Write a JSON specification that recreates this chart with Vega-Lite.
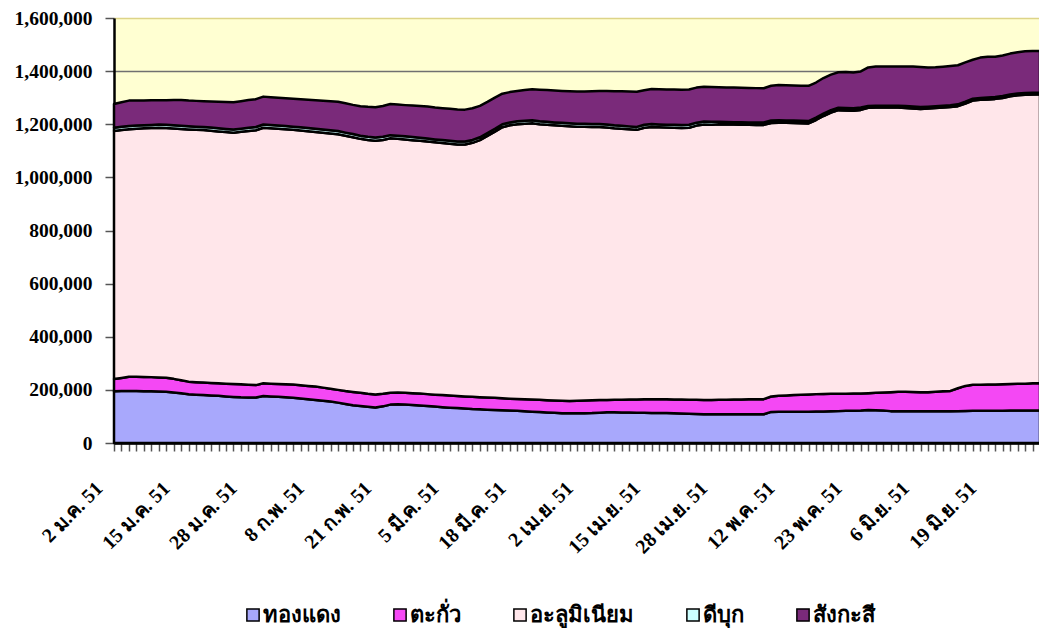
{
  "$schema": "https://vega.github.io/schema/vega-lite/v6.json",
  "width": 926,
  "height": 425,
  "autosize": {"type": "none"},
  "padding": {"left": 114, "top": 18, "right": 0, "bottom": 185},
  "background": "white",
  "config": {"view": {"fill": "#FFFFD2", "stroke": null}},
  "data": {"values": [
    {"d":"2 ม.ค. 51","s1":195000,"s2":46000,"s3":934000,"s4":12000,"s5":89000},
    {"d":"3 ม.ค. 51","s1":195500,"s2":49500,"s3":933500,"s4":12000,"s5":92500},
    {"d":"4 ม.ค. 51","s1":196000,"s2":53500,"s3":932000,"s4":12000,"s5":95500},
    {"d":"7 ม.ค. 51","s1":195500,"s2":54000,"s3":933500,"s4":12000,"s5":94500},
    {"d":"8 ม.ค. 51","s1":195000,"s2":53500,"s3":936000,"s4":12000,"s5":93000},
    {"d":"9 ม.ค. 51","s1":194500,"s2":53500,"s3":937500,"s4":12000,"s5":92500},
    {"d":"10 ม.ค. 51","s1":194000,"s2":53000,"s3":940000,"s4":12000,"s5":91000},
    {"d":"11 ม.ค. 51","s1":193000,"s2":53000,"s3":940000,"s4":12000,"s5":92500},
    {"d":"14 ม.ค. 51","s1":190000,"s2":51500,"s3":942500,"s4":12000,"s5":95000},
    {"d":"15 ม.ค. 51","s1":187000,"s2":49000,"s3":946000,"s4":12000,"s5":97000},
    {"d":"16 ม.ค. 51","s1":183500,"s2":47500,"s3":949500,"s4":12000,"s5":96500},
    {"d":"17 ม.ค. 51","s1":182000,"s2":47000,"s3":950000,"s4":12000,"s5":97000},
    {"d":"18 ม.ค. 51","s1":180500,"s2":47000,"s3":950500,"s4":12000,"s5":97000},
    {"d":"21 ม.ค. 51","s1":179000,"s2":47000,"s3":949500,"s4":12000,"s5":98500},
    {"d":"22 ม.ค. 51","s1":177500,"s2":47500,"s3":948000,"s4":12000,"s5":100000},
    {"d":"23 ม.ค. 51","s1":175500,"s2":48000,"s3":947000,"s4":12000,"s5":101500},
    {"d":"24 ม.ค. 51","s1":173500,"s2":48500,"s3":946000,"s4":12000,"s5":103000},
    {"d":"25 ม.ค. 51","s1":172000,"s2":49000,"s3":950500,"s4":12000,"s5":103500},
    {"d":"28 ม.ค. 51","s1":171500,"s2":48000,"s3":955000,"s4":12000,"s5":104500},
    {"d":"29 ม.ค. 51","s1":171000,"s2":47000,"s3":959500,"s4":12000,"s5":105000},
    {"d":"30 ม.ค. 51","s1":177000,"s2":48000,"s3":962000,"s4":12000,"s5":105000},
    {"d":"31 ม.ค. 51","s1":175500,"s2":48000,"s3":961500,"s4":12000,"s5":105000},
    {"d":"1 ก.พ. 51","s1":174000,"s2":48500,"s3":960500,"s4":12000,"s5":105000},
    {"d":"4 ก.พ. 51","s1":172500,"s2":49000,"s3":959500,"s4":12000,"s5":105000},
    {"d":"5 ก.พ. 51","s1":170000,"s2":50000,"s3":959000,"s4":12000,"s5":105000},
    {"d":"6 ก.พ. 51","s1":167500,"s2":50000,"s3":959000,"s4":12000,"s5":105500},
    {"d":"7 ก.พ. 51","s1":164500,"s2":50500,"s3":959000,"s4":12000,"s5":106000},
    {"d":"8 ก.พ. 51","s1":161500,"s2":51000,"s3":958500,"s4":12000,"s5":107500},
    {"d":"11 ก.พ. 51","s1":159000,"s2":49500,"s3":959500,"s4":12000,"s5":108500},
    {"d":"12 ก.พ. 51","s1":156000,"s2":48000,"s3":961500,"s4":12000,"s5":109000},
    {"d":"13 ก.พ. 51","s1":152000,"s2":48000,"s3":962500,"s4":12000,"s5":110000},
    {"d":"14 ก.พ. 51","s1":147000,"s2":48500,"s3":961000,"s4":12000,"s5":110500},
    {"d":"15 ก.พ. 51","s1":142000,"s2":50000,"s3":959000,"s4":12000,"s5":110000},
    {"d":"18 ก.พ. 51","s1":139000,"s2":50000,"s3":956000,"s4":12000,"s5":111000},
    {"d":"19 ก.พ. 51","s1":136500,"s2":49000,"s3":955500,"s4":12000,"s5":112500},
    {"d":"20 ก.พ. 51","s1":133500,"s2":49500,"s3":955000,"s4":12000,"s5":114000},
    {"d":"21 ก.พ. 51","s1":138000,"s2":47000,"s3":956000,"s4":12000,"s5":116000},
    {"d":"22 ก.พ. 51","s1":144500,"s2":45000,"s3":957500,"s4":12000,"s5":117000},
    {"d":"25 ก.พ. 51","s1":146000,"s2":44000,"s3":955000,"s4":12000,"s5":117000},
    {"d":"26 ก.พ. 51","s1":144500,"s2":44500,"s3":953500,"s4":12000,"s5":117500},
    {"d":"27 ก.พ. 51","s1":143000,"s2":44500,"s3":952500,"s4":12000,"s5":118500},
    {"d":"28 ก.พ. 51","s1":141000,"s2":45000,"s3":952000,"s4":11000,"s5":119500},
    {"d":"29 ก.พ. 51","s1":139000,"s2":45000,"s3":951000,"s4":11000,"s5":120500},
    {"d":"3 มี.ค. 51","s1":137000,"s2":45000,"s3":950000,"s4":11000,"s5":120000},
    {"d":"4 มี.ค. 51","s1":135000,"s2":45500,"s3":949000,"s4":11000,"s5":120000},
    {"d":"5 มี.ค. 51","s1":133000,"s2":46000,"s3":948000,"s4":11000,"s5":120000},
    {"d":"6 มี.ค. 51","s1":131500,"s2":45500,"s3":947000,"s4":11000,"s5":120500},
    {"d":"7 มี.ค. 51","s1":130000,"s2":45500,"s3":948500,"s4":11000,"s5":120000},
    {"d":"10 มี.ค. 51","s1":128000,"s2":46000,"s3":956000,"s4":11000,"s5":119000},
    {"d":"11 มี.ค. 51","s1":127000,"s2":45500,"s3":967500,"s4":11000,"s5":118000},
    {"d":"12 มี.ค. 51","s1":125500,"s2":45500,"s3":985000,"s4":11000,"s5":117000},
    {"d":"13 มี.ค. 51","s1":124500,"s2":45500,"s3":1002000,"s4":11000,"s5":117000},
    {"d":"14 มี.ค. 51","s1":123500,"s2":45000,"s3":1020500,"s4":11000,"s5":115000},
    {"d":"17 มี.ค. 51","s1":122000,"s2":45000,"s3":1029000,"s4":11000,"s5":114000},
    {"d":"18 มี.ค. 51","s1":121000,"s2":45000,"s3":1034000,"s4":11000,"s5":114000},
    {"d":"19 มี.ค. 51","s1":119500,"s2":45000,"s3":1037500,"s4":11000,"s5":116000},
    {"d":"20 มี.ค. 51","s1":118000,"s2":45500,"s3":1040500,"s4":11000,"s5":117000},
    {"d":"25 มี.ค. 51","s1":116500,"s2":46000,"s3":1037500,"s4":11000,"s5":119000},
    {"d":"26 มี.ค. 51","s1":115000,"s2":46000,"s3":1037000,"s4":11000,"s5":119500},
    {"d":"27 มี.ค. 51","s1":113500,"s2":46500,"s3":1036000,"s4":11000,"s5":120000},
    {"d":"28 มี.ค. 51","s1":112000,"s2":47000,"s3":1035500,"s4":11000,"s5":120000},
    {"d":"31 มี.ค. 51","s1":112000,"s2":46000,"s3":1034500,"s4":11000,"s5":120500},
    {"d":"1 เม.ย. 51","s1":112000,"s2":47000,"s3":1032000,"s4":11000,"s5":121000},
    {"d":"2 เม.ย. 51","s1":112000,"s2":48000,"s3":1030500,"s4":11000,"s5":122000},
    {"d":"3 เม.ย. 51","s1":112500,"s2":48000,"s3":1029500,"s4":11000,"s5":123500},
    {"d":"4 เม.ย. 51","s1":114000,"s2":47500,"s3":1028000,"s4":11000,"s5":125000},
    {"d":"7 เม.ย. 51","s1":116000,"s2":46000,"s3":1026000,"s4":11000,"s5":126500},
    {"d":"8 เม.ย. 51","s1":115500,"s2":47000,"s3":1022500,"s4":11000,"s5":128500},
    {"d":"9 เม.ย. 51","s1":115000,"s2":48000,"s3":1020000,"s4":11000,"s5":130000},
    {"d":"10 เม.ย. 51","s1":114500,"s2":49000,"s3":1017500,"s4":11000,"s5":131000},
    {"d":"11 เม.ย. 51","s1":114000,"s2":50000,"s3":1015000,"s4":11000,"s5":132000},
    {"d":"14 เม.ย. 51","s1":113500,"s2":51000,"s3":1022500,"s4":11000,"s5":130000},
    {"d":"15 เม.ย. 51","s1":113000,"s2":52000,"s3":1024500,"s4":11000,"s5":132500},
    {"d":"16 เม.ย. 51","s1":113000,"s2":52000,"s3":1023500,"s4":11000,"s5":132500},
    {"d":"17 เม.ย. 51","s1":112500,"s2":52000,"s3":1023000,"s4":11000,"s5":132500},
    {"d":"18 เม.ย. 51","s1":112000,"s2":52000,"s3":1023000,"s4":11000,"s5":132500},
    {"d":"21 เม.ย. 51","s1":111000,"s2":52500,"s3":1022500,"s4":11000,"s5":133000},
    {"d":"22 เม.ย. 51","s1":110000,"s2":53000,"s3":1024000,"s4":11000,"s5":133000},
    {"d":"23 เม.ย. 51","s1":109000,"s2":53500,"s3":1032500,"s4":11000,"s5":132000},
    {"d":"24 เม.ย. 51","s1":108000,"s2":54000,"s3":1037000,"s4":11000,"s5":131000},
    {"d":"25 เม.ย. 51","s1":108000,"s2":54000,"s3":1036500,"s4":11000,"s5":130500},
    {"d":"28 เม.ย. 51","s1":108000,"s2":54500,"s3":1037500,"s4":9000,"s5":130000},
    {"d":"29 เม.ย. 51","s1":108000,"s2":55000,"s3":1036500,"s4":9000,"s5":130000},
    {"d":"30 เม.ย. 51","s1":108000,"s2":55500,"s3":1035500,"s4":9000,"s5":130000},
    {"d":"1 พ.ค. 51","s1":108000,"s2":56000,"s3":1034500,"s4":9000,"s5":129500},
    {"d":"2 พ.ค. 51","s1":108000,"s2":56500,"s3":1033500,"s4":9000,"s5":129500},
    {"d":"6 พ.ค. 51","s1":108000,"s2":56500,"s3":1033000,"s4":9000,"s5":129500},
    {"d":"7 พ.ค. 51","s1":108000,"s2":57000,"s3":1032500,"s4":9000,"s5":129000},
    {"d":"8 พ.ค. 51","s1":117000,"s2":58000,"s3":1030000,"s4":9000,"s5":131000},
    {"d":"9 พ.ค. 51","s1":118000,"s2":60000,"s3":1028000,"s4":9000,"s5":132500},
    {"d":"12 พ.ค. 51","s1":118000,"s2":61000,"s3":1026500,"s4":9000,"s5":132000},
    {"d":"13 พ.ค. 51","s1":118000,"s2":62500,"s3":1024500,"s4":9000,"s5":132000},
    {"d":"14 พ.ค. 51","s1":118000,"s2":63500,"s3":1022500,"s4":9000,"s5":132000},
    {"d":"15 พ.ค. 51","s1":118000,"s2":64500,"s3":1020500,"s4":9000,"s5":132500},
    {"d":"16 พ.ค. 51","s1":118500,"s2":65500,"s3":1032000,"s4":9000,"s5":132000},
    {"d":"19 พ.ค. 51","s1":119000,"s2":65500,"s3":1046500,"s4":9000,"s5":134000},
    {"d":"20 พ.ค. 51","s1":119500,"s2":65500,"s3":1059000,"s4":9000,"s5":134000},
    {"d":"21 พ.ค. 51","s1":120000,"s2":65500,"s3":1067500,"s4":9000,"s5":134000},
    {"d":"22 พ.ค. 51","s1":121000,"s2":64500,"s3":1066500,"s4":9000,"s5":136000},
    {"d":"23 พ.ค. 51","s1":121500,"s2":64500,"s3":1065000,"s4":9000,"s5":135000},
    {"d":"27 พ.ค. 51","s1":122000,"s2":64000,"s3":1068000,"s4":9000,"s5":136000},
    {"d":"28 พ.ค. 51","s1":124500,"s2":63000,"s3":1074500,"s4":7000,"s5":145000},
    {"d":"29 พ.ค. 51","s1":123500,"s2":65500,"s3":1074000,"s4":7000,"s5":147000},
    {"d":"30 พ.ค. 51","s1":122000,"s2":68000,"s3":1073000,"s4":7000,"s5":147000},
    {"d":"2 มิ.ย. 51","s1":120000,"s2":71500,"s3":1071500,"s4":7000,"s5":147000},
    {"d":"3 มิ.ย. 51","s1":120000,"s2":73000,"s3":1070000,"s4":7000,"s5":147000},
    {"d":"4 มิ.ย. 51","s1":120000,"s2":72500,"s3":1069000,"s4":7000,"s5":148500},
    {"d":"5 มิ.ย. 51","s1":120000,"s2":72000,"s3":1067500,"s4":7000,"s5":150500},
    {"d":"6 มิ.ย. 51","s1":120000,"s2":71500,"s3":1066000,"s4":7000,"s5":151000},
    {"d":"9 มิ.ย. 51","s1":120000,"s2":71000,"s3":1068000,"s4":7000,"s5":148000},
    {"d":"10 มิ.ย. 51","s1":120000,"s2":72500,"s3":1068500,"s4":7000,"s5":146500},
    {"d":"11 มิ.ย. 51","s1":120000,"s2":74500,"s3":1068500,"s4":7000,"s5":146500},
    {"d":"12 มิ.ย. 51","s1":120000,"s2":76000,"s3":1069000,"s4":7000,"s5":147000},
    {"d":"13 มิ.ย. 51","s1":120000,"s2":86000,"s3":1062000,"s4":7000,"s5":147000},
    {"d":"16 มิ.ย. 51","s1":120500,"s2":94500,"s3":1063000,"s4":7000,"s5":148000},
    {"d":"17 มิ.ย. 51","s1":121000,"s2":98000,"s3":1070000,"s4":7000,"s5":147000},
    {"d":"18 มิ.ย. 51","s1":121000,"s2":98500,"s3":1072500,"s4":7000,"s5":152000},
    {"d":"19 มิ.ย. 51","s1":121000,"s2":99000,"s3":1073500,"s4":7000,"s5":153500},
    {"d":"20 มิ.ย. 51","s1":121500,"s2":99000,"s3":1075000,"s4":7000,"s5":151500},
    {"d":"23 มิ.ย. 51","s1":121500,"s2":99500,"s3":1078000,"s4":7000,"s5":153000},
    {"d":"24 มิ.ย. 51","s1":122000,"s2":100000,"s3":1083000,"s4":7000,"s5":154000},
    {"d":"25 มิ.ย. 51","s1":122000,"s2":101000,"s3":1086000,"s4":7000,"s5":155000},
    {"d":"26 มิ.ย. 51","s1":122000,"s2":101500,"s3":1087500,"s4":7000,"s5":157000},
    {"d":"27 มิ.ย. 51","s1":122000,"s2":102500,"s3":1087500,"s4":7000,"s5":157000},
    {"d":"30 มิ.ย. 51","s1":122000,"s2":103000,"s3":1088000,"s4":7000,"s5":156000}
  ]},
  "transform": [{"fold": ["s1", "s2", "s3", "s4", "s5"], "as": ["s", "v"]}],
  "mark": {"type": "area", "stroke": "black", "strokeWidth": 2.5, "strokeJoin": "round", "fillOpacity": 1, "opacity": 1},
  "encoding": {
    "x": {
      "field": "d", "type": "ordinal", "sort": null,
      "scale": {"type": "point", "padding": 0},
      "axis": {
        "title": null,
        "labelExpr": "indexof(['2 ม.ค. 51','15 ม.ค. 51','28 ม.ค. 51','8 ก.พ. 51','21 ก.พ. 51','5 มี.ค. 51','18 มี.ค. 51','2 เม.ย. 51','15 เม.ย. 51','28 เม.ย. 51','12 พ.ค. 51','23 พ.ค. 51','6 มิ.ย. 51','19 มิ.ย. 51'], datum.value) >= 0 ? datum.value : ''",
        "labelOverlap": false,
        "labelAngle": -45,
        "labelAlign": "right",
        "labelBaseline": "middle",
        "labelPadding": 34,
        "labelOffset": -15,
        "labelFont": "Liberation Serif",
        "labelFontWeight": "bold",
        "labelFontSize": 20,
        "labelColor": "black",
        "tickSize": 8,
        "tickColor": "#555555",
        "tickWidth": 1.5,
        "domainColor": "black",
        "domainWidth": 2.5,
        "grid": false
      }
    },
    "y": {
      "field": "v", "type": "quantitative", "stack": "zero",
      "scale": {"domain": [0, 1600000], "nice": false},
      "axis": {
        "title": null,
        "values": [0, 200000, 400000, 600000, 800000, 1000000, 1200000, 1400000, 1600000],
        "format": ",d",
        "labelFont": "Liberation Serif",
        "labelFontWeight": "bold",
        "labelFontSize": 19.5,
        "labelColor": "black",
        "labelPadding": 13,
        "tickSize": 9,
        "tickColor": "#555555",
        "tickWidth": 1.5,
        "domainColor": "black",
        "domainWidth": 2.5,
        "grid": true,
        "gridColor": {"condition": {"test": "datum.value == 1600000", "value": "#DDD488"}, "value": "#707070"},
        "gridWidth": 1.5
      }
    },
    "color": {
      "field": "s", "type": "nominal",
      "scale": {"domain": ["s1", "s2", "s3", "s4", "s5"], "range": ["#A8A8FC", "#F448F4", "#FFE6EA", "#CCFFFF", "#7A2A7A"]},
      "legend": {
        "orient": "none",
        "direction": "horizontal",
        "legendX": 128,
        "legendY": 586,
        "title": null,
        "labelExpr": "datum.label == 's1' ? 'ทองแดง' : datum.label == 's2' ? 'ตะกั่ว' : datum.label == 's3' ? 'อะลูมิเนียม' : datum.label == 's4' ? 'ดีบุก' : 'สังกะสี'",
        "symbolType": "square",
        "symbolSize": 150,
        "symbolStrokeColor": "black",
        "symbolStrokeWidth": 1.5,
        "labelFont": "Tahoma, DejaVu Sans, sans-serif",
        "labelFontWeight": "bold",
        "labelFontSize": 22,
        "labelColor": "black",
        "labelOffset": -1,
        "columnPadding": 48,
        "labelLimit": 300
      }
    },
    "order": {"field": "s", "sort": "ascending"}
  }
}
